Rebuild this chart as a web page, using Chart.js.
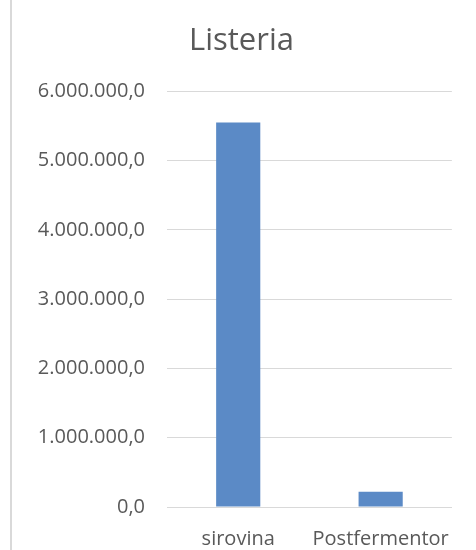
<!DOCTYPE html>
<html>
<head>
<meta charset="utf-8">
<script src="https://cdn.jsdelivr.net/npm/chart.js@4"></script>
<style>
  html, body { margin: 0; padding: 0; background: #ffffff; }
  #wrap { position: relative; width: 476px; height: 550px; }
  #edge { position: absolute; left: 10px; top: 0; width: 2px; height: 550px; background: #d9d9d9; }
</style>
</head>
<body>
<div id="wrap">
  <canvas id="Chart1" width="476" height="550"></canvas>
  <div id="edge"></div>
</div>
<script>
const title = "Listeria";
const categories = ["sirovina", "Postfermentor"];
const values = [5550000, 220000];
const yMin = 0;
const yMax = 6000000;
const yStep = 1000000;

// 6000000 -> "6.000.000,0"
const format_tick = function (v) {
    const whole = Math.round(v).toString().replace(/\B(?=(\d{3})+(?!\d))/g, ".");
    return whole + ",0";
};

const textColor = "#595959";
const gridColor = "#d9d9d9";
const fontFamily = "'Open Sans', sans-serif";

new Chart(document.getElementById("Chart1").getContext("2d"), {
    type: "bar",
    data: {
        labels: categories,
        datasets: [{
            data: values,
            backgroundColor: "#5b8ac6",
            borderWidth: 0,
            barPercentage: 0.31,
            categoryPercentage: 1,
        }]
    },
    options: {
        responsive: false,
        animation: false,
        devicePixelRatio: 1,
        layout: {
            padding: { left: 28, right: 21, top: 23, bottom: 0 }
        },
        plugins: {
            legend: { display: false },
            tooltip: { enabled: false },
            title: {
                display: true,
                text: title,
                color: textColor,
                font: { family: fontFamily, size: 31, weight: "normal", lineHeight: 1.2 },
                padding: { top: 0, bottom: 31 },
            },
        },
        scales: {
            x: {
                grid: { display: false, drawTicks: false },
                border: { display: true, color: gridColor, width: 1 },
                ticks: {
                    color: textColor,
                    font: { family: fontFamily, size: 20, lineHeight: 1 },
                    padding: 22,
                    maxRotation: 0,
                },
                afterFit: (scale) => { scale.height = 43; },
            },
            y: {
                min: yMin,
                max: yMax,
                grid: { color: gridColor, lineWidth: 1, drawTicks: false },
                border: { display: false },
                ticks: {
                    stepSize: yStep,
                    color: textColor,
                    font: { family: fontFamily, size: 20 },
                    padding: 22,
                    callback: (v) => format_tick(v),
                },
                afterFit: (scale) => { scale.width = 139; },
            },
        },
    }
});
</script>
</body>
</html>
